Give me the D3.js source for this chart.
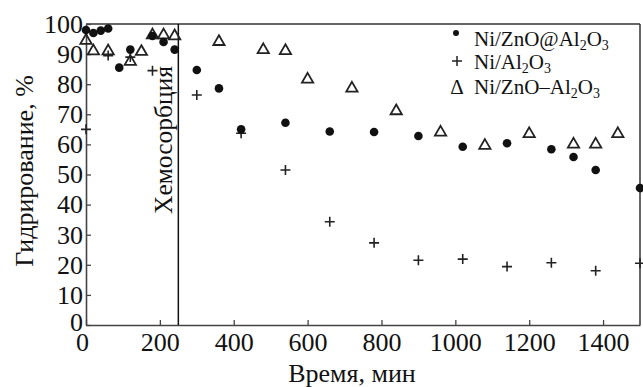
<!DOCTYPE html>
<html><head><meta charset="utf-8">
<script src="https://cdn.jsdelivr.net/npm/d3@7"></script>
<style>body{margin:0;background:#fff}svg{display:block}text{font-family:"Liberation Serif","Times New Roman",serif;fill:#111}</style>
</head><body><svg id="c" width="643" height="387"></svg>
<script>
// ---- data ----
const dotTimes  = [0, 20, 40, 60, 90, 120, 180, 210, 240, 300, 360, 420, 540, 660, 780, 900, 1020, 1140, 1260, 1320, 1380, 1500];
const dotValues = [98, 97, 97.8, 98.5, 85.5, 91.5, 96, 94, 91.5, 84.7, 78.6, 65, 67.2, 64.3, 64.1, 62.8, 59.2, 60.4, 58.4, 55.8, 51.5, 45.5];
const plusTimes  = [0, 60, 120, 180, 300, 420, 540, 660, 780, 900, 1020, 1140, 1260, 1380, 1500];
const plusValues = [65, 89.5, 89, 84.5, 76.4, 63.7, 51.5, 34.3, 27.3, 21.5, 21.9, 19.4, 20.7, 18, 20.5];
const triTimes  = [0, 20, 60, 120, 150, 180, 210, 240, 360, 480, 540, 600, 720, 840, 960, 1080, 1200, 1320, 1380, 1440];
const triValues = [94.5, 91, 91, 87.5, 90.8, 96.3, 96.3, 96, 94.1, 91.4, 91.1, 81.6, 78.6, 71.1, 64, 59.6, 63.5, 60, 60, 63.5];
const xTicks = [0, 200, 400, 600, 800, 1000, 1200, 1400];
const yTicks = [0, 10, 20, 30, 40, 50, 60, 70, 80, 90, 100];
const chemTime = 250;
const seriesNames = [["Ni/ZnO@Al","2","O","3"], ["Ni/Al","2","O","3"], ["Ni/ZnO–Al","2","O","3"]];

const svg = d3.select("#c");
const L = 86, R = 640, T = 24, B = 325;
const x = d3.scaleLinear().domain([0, 1500]).range([L, R]);
const y = d3.scaleLinear().domain([0, 100]).range([B, T]);

// frame
svg.append("line").attr("x1", L).attr("x2", R).attr("y1", T).attr("y2", T).attr("stroke", "#666").attr("stroke-width", 2);
svg.append("line").attr("x1", R).attr("x2", R).attr("y1", T).attr("y2", B).attr("stroke", "#333").attr("stroke-width", 1.5);

// axes
const xa = svg.append("g").attr("transform", `translate(0,${B})`)
  .call(d3.axisBottom(x).tickValues(xTicks).tickSizeInner(-5).tickSizeOuter(0).tickPadding(7.5).tickFormat(d3.format("d")));
const ya = svg.append("g").attr("transform", `translate(${L},0)`)
  .call(d3.axisLeft(y).tickValues(yTicks).tickSizeInner(-5).tickSizeOuter(0).tickPadding(3).tickFormat(d3.format("d")));
[xa, ya].forEach(g => {
  g.select(".domain").attr("stroke", "#444").attr("stroke-width", 1.6);
  g.selectAll(".tick line").attr("stroke", "#444").attr("stroke-width", 1.3);
  g.selectAll(".tick text").attr("font-size", 26).attr("fill", "#111").style("font-family", '"Liberation Serif",serif');
});
xa.selectAll(".tick text").filter(d => d === 0).attr("dx", -4);
ya.selectAll(".tick text").filter(d => d === 0).attr("dy", "0.2em");

// chemisorption line
svg.append("line").attr("x1", x(chemTime)).attr("x2", x(chemTime)).attr("y1", T).attr("y2", B).attr("stroke", "#111").attr("stroke-width", 1.5);
svg.append("text").attr("transform", `translate(${x(chemTime) - 6},140) rotate(-90)`)
  .attr("text-anchor", "middle").attr("font-size", 25.5).text("Хемосорбция");

// titles
svg.append("text").attr("x", 352).attr("y", 382).attr("text-anchor", "middle").attr("font-size", 26).text("Время, мин");
svg.append("text").attr("transform", "translate(33,171) rotate(-90)").attr("text-anchor", "middle").attr("font-size", 26).text("Гидрирование, %");

// marks
const tri = d3.symbol().type(d3.symbolTriangle).size(55);
svg.append("g").selectAll("path").data(triTimes.map((t, i) => [t, triValues[i]])).join("path")
  .attr("d", tri).attr("transform", d => `translate(${x(d[0])},${y(d[1])})`)
  .attr("fill", "none").attr("stroke", "#222").attr("stroke-width", 1.8);
svg.append("g").selectAll("path").data(plusTimes.map((t, i) => [t, plusValues[i]])).join("path")
  .attr("d", "M-5,0H5M0,-5V5").attr("transform", d => `translate(${x(d[0])},${y(d[1])})`)
  .attr("stroke", "#222").attr("stroke-width", 1.6);
svg.append("g").selectAll("circle").data(dotTimes.map((t, i) => [t, dotValues[i]])).join("circle")
  .attr("cx", d => x(d[0])).attr("cy", d => y(d[1])).attr("r", 4.3).attr("fill", "#111");

// legend
const lx = 474, ly = [46, 69, 94];
svg.append("circle").attr("cx", 456).attr("cy", 33).attr("r", 3).attr("fill", "#111");
svg.append("path").attr("d", "M-5,0H5M0,-5V5").attr("transform", "translate(457,61)").attr("stroke", "#222").attr("stroke-width", 1.5);
svg.append("text").attr("x", 457).attr("y", 94).attr("text-anchor", "middle").attr("font-size", 21).text("Δ");
seriesNames.forEach((p, i) => {
  const t = svg.append("text").attr("x", lx).attr("y", ly[i]).attr("font-size", 21);
  t.append("tspan").text(p[0]);
  t.append("tspan").attr("font-size", 14).attr("dy", 4).text(p[1]);
  t.append("tspan").attr("dy", -4).text(p[2]);
  t.append("tspan").attr("font-size", 14).attr("dy", 4).text(p[3]);
});
</script></body></html>
